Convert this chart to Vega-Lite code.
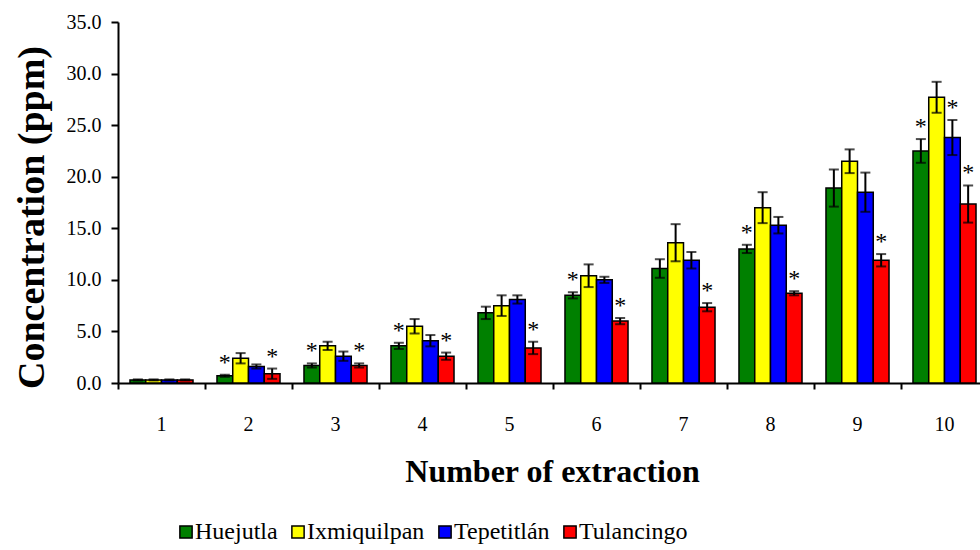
{
  "$schema": "https://vega.github.io/schema/vega-lite/v6.json",
  "width": 862,
  "height": 361,
  "autosize": {"type": "none"},
  "padding": {"left": 118, "top": 22, "right": 0, "bottom": 167},
  "background": "white",
  "config": {
    "view": {"stroke": null},
    "font": "Liberation Serif",
    "axis": {"grid": false, "domainColor": "black", "domainWidth": 2, "tickColor": "black", "tickWidth": 2, "labelColor": "black", "titleColor": "black", "labelFont": "Liberation Serif", "titleFont": "Liberation Serif"}
  },
  "data": {
    "values": [
      {"n": 1, "site": "Huejutla", "value": 0.3, "lo": 0.25, "hi": 0.35, "sig": ""},
      {"n": 1, "site": "Ixmiquilpan", "value": 0.3, "lo": 0.25, "hi": 0.35, "sig": ""},
      {"n": 1, "site": "Tepetitlán", "value": 0.3, "lo": 0.25, "hi": 0.35, "sig": ""},
      {"n": 1, "site": "Tulancingo", "value": 0.3, "lo": 0.25, "hi": 0.35, "sig": ""},
      {"n": 2, "site": "Huejutla", "value": 0.7, "lo": 0.6, "hi": 0.8, "sig": "*"},
      {"n": 2, "site": "Ixmiquilpan", "value": 2.4, "lo": 1.9, "hi": 2.9, "sig": ""},
      {"n": 2, "site": "Tepetitlán", "value": 1.6, "lo": 1.4, "hi": 1.8, "sig": ""},
      {"n": 2, "site": "Tulancingo", "value": 0.9, "lo": 0.4, "hi": 1.4, "sig": "*"},
      {"n": 3, "site": "Huejutla", "value": 1.7, "lo": 1.5, "hi": 1.9, "sig": "*"},
      {"n": 3, "site": "Ixmiquilpan", "value": 3.6, "lo": 3.2, "hi": 4.0, "sig": ""},
      {"n": 3, "site": "Tepetitlán", "value": 2.6, "lo": 2.15, "hi": 3.05, "sig": ""},
      {"n": 3, "site": "Tulancingo", "value": 1.7, "lo": 1.5, "hi": 1.9, "sig": "*"},
      {"n": 4, "site": "Huejutla", "value": 3.6, "lo": 3.3, "hi": 3.9, "sig": "*"},
      {"n": 4, "site": "Ixmiquilpan", "value": 5.5, "lo": 4.8, "hi": 6.2, "sig": ""},
      {"n": 4, "site": "Tepetitlán", "value": 4.1, "lo": 3.55, "hi": 4.65, "sig": ""},
      {"n": 4, "site": "Tulancingo", "value": 2.6, "lo": 2.25, "hi": 2.95, "sig": "*"},
      {"n": 5, "site": "Huejutla", "value": 6.8, "lo": 6.2, "hi": 7.4, "sig": ""},
      {"n": 5, "site": "Ixmiquilpan", "value": 7.5, "lo": 6.5, "hi": 8.5, "sig": ""},
      {"n": 5, "site": "Tepetitlán", "value": 8.1, "lo": 7.7, "hi": 8.5, "sig": ""},
      {"n": 5, "site": "Tulancingo", "value": 3.4, "lo": 2.8, "hi": 4.0, "sig": "*"},
      {"n": 6, "site": "Huejutla", "value": 8.5, "lo": 8.2, "hi": 8.8, "sig": "*"},
      {"n": 6, "site": "Ixmiquilpan", "value": 10.4, "lo": 9.3, "hi": 11.5, "sig": ""},
      {"n": 6, "site": "Tepetitlán", "value": 10.0, "lo": 9.7, "hi": 10.3, "sig": ""},
      {"n": 6, "site": "Tulancingo", "value": 6.0, "lo": 5.7, "hi": 6.3, "sig": "*"},
      {"n": 7, "site": "Huejutla", "value": 11.1, "lo": 10.2, "hi": 12.0, "sig": ""},
      {"n": 7, "site": "Ixmiquilpan", "value": 13.6, "lo": 11.8, "hi": 15.4, "sig": ""},
      {"n": 7, "site": "Tepetitlán", "value": 11.9, "lo": 11.1, "hi": 12.7, "sig": ""},
      {"n": 7, "site": "Tulancingo", "value": 7.35, "lo": 6.95, "hi": 7.75, "sig": "*"},
      {"n": 8, "site": "Huejutla", "value": 13.0, "lo": 12.6, "hi": 13.4, "sig": "*"},
      {"n": 8, "site": "Ixmiquilpan", "value": 17.0, "lo": 15.5, "hi": 18.5, "sig": ""},
      {"n": 8, "site": "Tepetitlán", "value": 15.3, "lo": 14.5, "hi": 16.1, "sig": ""},
      {"n": 8, "site": "Tulancingo", "value": 8.7, "lo": 8.5, "hi": 8.9, "sig": "*"},
      {"n": 9, "site": "Huejutla", "value": 18.9, "lo": 17.1, "hi": 20.7, "sig": ""},
      {"n": 9, "site": "Ixmiquilpan", "value": 21.5, "lo": 20.35, "hi": 22.65, "sig": ""},
      {"n": 9, "site": "Tepetitlán", "value": 18.5, "lo": 16.6, "hi": 20.4, "sig": ""},
      {"n": 9, "site": "Tulancingo", "value": 11.9, "lo": 11.3, "hi": 12.5, "sig": "*"},
      {"n": 10, "site": "Huejutla", "value": 22.5, "lo": 21.35, "hi": 23.65, "sig": "*"},
      {"n": 10, "site": "Ixmiquilpan", "value": 27.7, "lo": 26.2, "hi": 29.2, "sig": ""},
      {"n": 10, "site": "Tepetitlán", "value": 23.8, "lo": 22.1, "hi": 25.5, "sig": "*"},
      {"n": 10, "site": "Tulancingo", "value": 17.35, "lo": 15.55, "hi": 19.15, "sig": "*"}
    ]
  },
  "encoding": {
    "x": {
      "field": "n", "type": "ordinal",
      "scale": {"paddingInner": 0, "paddingOuter": 0, "range": [0, 870]},
      "axis": {
        "title": "Number of extraction", "labelAngle": 0, "bandPosition": 0,
        "tickSize": 6, "labelPadding": 25, "labelFontSize": 20,
        "titleFontSize": 32, "titleFontWeight": "bold", "titleX": 434, "titleY": 98,
        "titleBaseline": "alphabetic", "titleAlign": "center"
      }
    },
    "xOffset": {
      "field": "site", "type": "nominal",
      "scale": {"domain": ["Huejutla", "Ixmiquilpan", "Tepetitlán", "Tulancingo"], "paddingInner": 0, "paddingOuter": 0.76}
    }
  },
  "layer": [
    {
      "mark": {"type": "bar", "stroke": "black", "strokeWidth": 1.5},
      "encoding": {
        "y": {
          "field": "value", "type": "quantitative",
          "scale": {"domain": [0, 35], "nice": false},
          "axis": {
            "title": "Concentration (ppm)", "values": [0, 5, 10, 15, 20, 25, 30, 35], "format": ".1f",
            "tickSize": 7, "labelPadding": 10, "labelFontSize": 20,
            "titleFontSize": 38, "titleFontWeight": "bold", "titleX": -75, "titleY": 195,
            "titleAngle": -90, "titleBaseline": "alphabetic", "titleAlign": "center"
          }
        },
        "color": {
          "field": "site", "type": "nominal",
          "scale": {"domain": ["Huejutla", "Ixmiquilpan", "Tepetitlán", "Tulancingo"], "range": ["#008000", "#FFFF00", "#0000FF", "#FF0000"]},
          "legend": {
            "orient": "none", "legendX": 56, "legendY": 498, "direction": "horizontal", "title": null,
            "symbolType": "square", "symbolSize": 150, "symbolStrokeColor": "black", "symbolStrokeWidth": 1.5,
            "labelFontSize": 24, "labelFont": "Liberation Serif", "labelColor": "black", "labelOffset": -3,
            "columnPadding": 8, "symbolOpacity": 1
          }
        }
      }
    },
    {
      "mark": {"type": "rule", "color": "black", "strokeWidth": 2},
      "encoding": {
        "y": {"field": "lo", "type": "quantitative"},
        "y2": {"field": "hi"}
      }
    },
    {
      "mark": {"type": "tick", "color": "black", "thickness": 2, "size": 10, "orient": "horizontal"},
      "encoding": {"y": {"field": "lo", "type": "quantitative"}}
    },
    {
      "mark": {"type": "tick", "color": "black", "thickness": 2, "size": 10, "orient": "horizontal"},
      "encoding": {"y": {"field": "hi", "type": "quantitative"}}
    },
    {
      "mark": {"type": "text", "baseline": "alphabetic", "dy": -5, "fontSize": 24, "font": "Liberation Serif", "color": "black"},
      "encoding": {
        "y": {"field": "hi", "type": "quantitative"},
        "text": {"field": "sig"}
      }
    }
  ]
}
